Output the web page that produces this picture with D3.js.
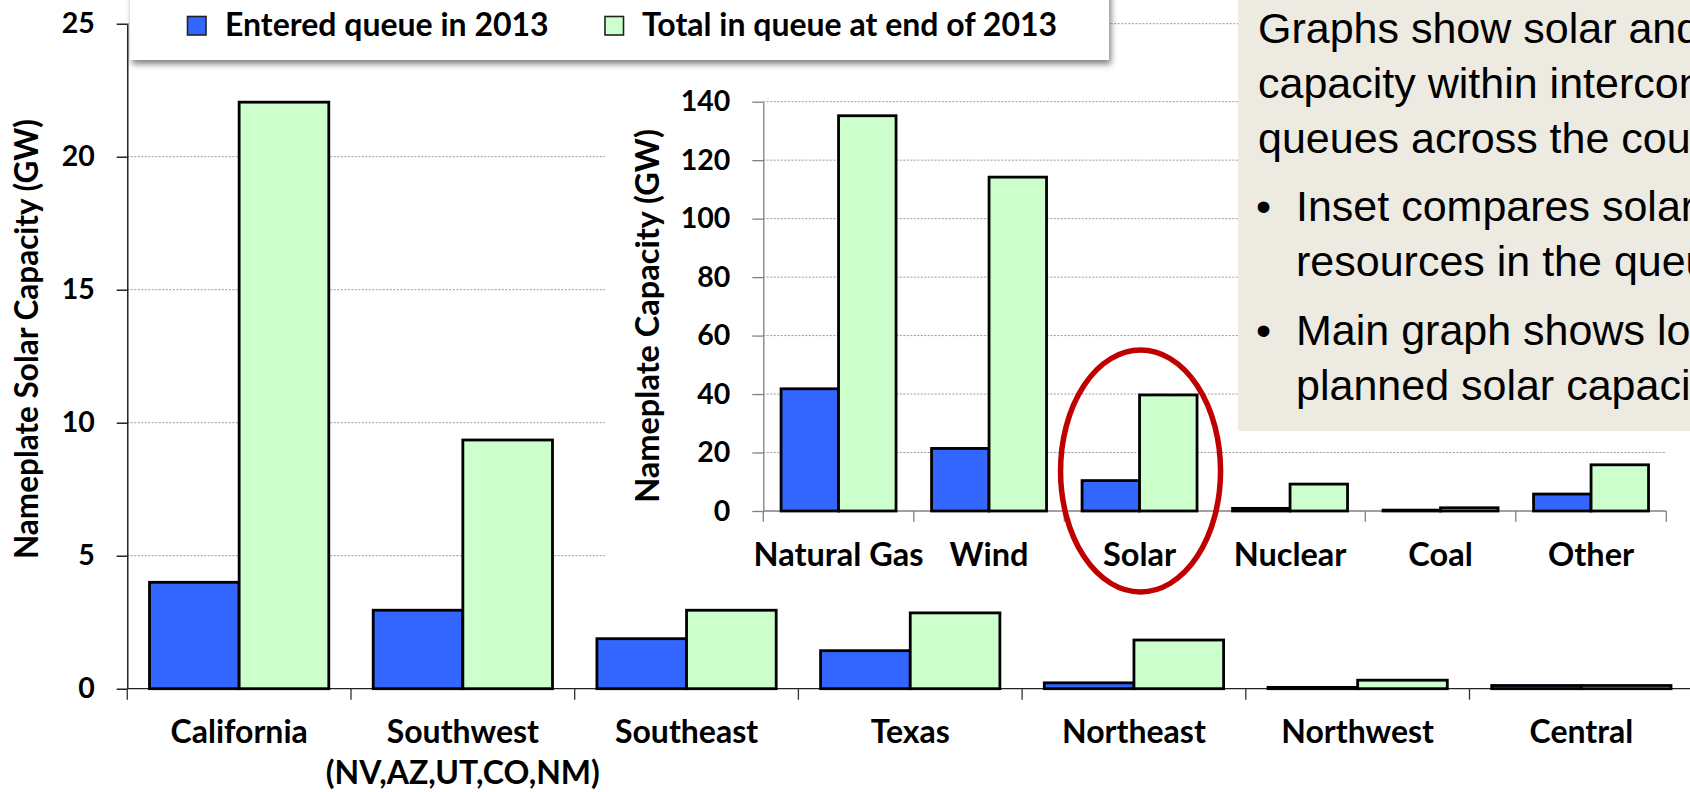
<!DOCTYPE html>
<html>
<head>
<meta charset="utf-8">
<script src="https://cdn.jsdelivr.net/npm/d3@7"></script>
<style>
  html, body { margin: 0; padding: 0; background: #fff; overflow: hidden; }
  svg { display: block; }
</style>
</head>
<body>
<script>
// ---- Regional solar capacity in interconnection queues (GW) ----
const regions = ["California", "Southwest", "Southeast", "Texas", "Northeast", "Northwest", "Central"];
const regionSubLabels = ["", "(NV,AZ,UT,CO,NM)", "", "", "", "", ""];
const enteredByRegion = [4.0, 2.95, 1.88, 1.43, 0.22, 0.05, 0.12];
const totalByRegion = [22.05, 9.35, 2.95, 2.85, 1.83, 0.32, 0.12];
const regionTicks = [0, 5, 10, 15, 20, 25];

// ---- All resources in interconnection queues (GW) ----
const resources = ["Natural Gas", "Wind", "Solar", "Nuclear", "Coal", "Other"];
const enteredByResource = [41.8, 21.4, 10.4, 0.9, 0.3, 5.8];
const totalByResource = [135.2, 114.2, 39.7, 9.2, 1.1, 15.8];
const resourceTicks = [0, 20, 40, 60, 80, 100, 120, 140];

const seriesNames = ["Entered queue in 2013", "Total in queue at end of 2013"];
const seriesColors = ["#3366FF", "#CCFFCC"];

const noteLines = [
  { text: "Graphs show solar and other", bullet: false, gap: false },
  { text: "capacity within interconnection", bullet: false, gap: false },
  { text: "queues across the country", bullet: false, gap: false },
  { text: "Inset compares solar to other", bullet: true, gap: true },
  { text: "resources in the queue", bullet: false, indent: true, gap: false },
  { text: "Main graph shows location of", bullet: true, gap: true },
  { text: "planned solar capacity", bullet: false, indent: true, gap: false }
];

const W = 1690, H = 792;
const labelFont = "Lato, 'Open Sans', sans-serif";
const noteFont = "'Liberation Sans', Arial, sans-serif";

const svg = d3.select("body").append("svg")
  .attr("width", W).attr("height", H)
  .attr("viewBox", `0 0 ${W} ${H}`);

const defs = svg.append("defs");
defs.append("filter").attr("id", "legendShadow")
  .attr("x", "-5%").attr("y", "-50%").attr("width", "112%").attr("height", "220%")
  .append("feDropShadow")
  .attr("dx", 2).attr("dy", 4).attr("stdDeviation", 3)
  .attr("flood-color", "#000").attr("flood-opacity", 0.5);

// grouped bars: one band per category, one sub-band per series
function drawGroupedBars(g, cats, seriesVals, x, y, strokeW) {
  const sub = d3.scaleBand().domain(d3.range(seriesVals.length)).range([0, x.bandwidth()]);
  const rows = cats.map((c, i) => ({ c, vals: seriesVals.map(v => v[i]) }));
  const grp = g.selectAll("g.cat").data(rows).join("g")
    .attr("class", "cat")
    .attr("transform", d => `translate(${x(d.c)},0)`);
  grp.selectAll("rect").data(d => d.vals.map((v, s) => ({ v, s }))).join("rect")
    .attr("x", d => sub(d.s))
    .attr("y", d => y(d.v))
    .attr("width", sub.bandwidth())
    .attr("height", d => y(0) - y(d.v))
    .attr("fill", d => seriesColors[d.s])
    .attr("stroke", "#000")
    .attr("stroke-width", strokeW);
}

function styleAxisText(sel, size) {
  sel.selectAll("text")
    .attr("font-family", labelFont)
    .attr("font-weight", 700)
    .attr("font-size", size)
    .attr("fill", "#000");
}

// ================= Main chart: by region =================
const main = svg.append("g");
const mainLeft = 127.3, mainStep = 223.7;
const mainX = d3.scaleBand().domain(regions)
  .range([mainLeft, mainLeft + regions.length * mainStep])
  .paddingInner(0.1985).paddingOuter(0.1985 / 2);
const mainY = d3.scaleLinear().domain([0, 25]).range([688.7, 23.7]);

main.append("g").selectAll("line").data(regionTicks.slice(1)).join("line")
  .attr("x1", mainLeft).attr("x2", W)
  .attr("y1", d => mainY(d)).attr("y2", d => mainY(d))
  .attr("stroke", "#9a9a9a").attr("stroke-width", 1).attr("stroke-dasharray", "2,1.5");

const mainYAxis = main.append("g").attr("transform", `translate(${mainLeft},0)`)
  .call(d3.axisLeft(mainY).tickValues(regionTicks).tickSize(10.6).tickSizeOuter(0).tickPadding(22));
mainYAxis.select(".domain").attr("stroke", "#000").attr("stroke-width", 1.3);
mainYAxis.selectAll(".tick line").attr("stroke", "#000").attr("stroke-width", 1.3);
styleAxisText(mainYAxis, 28.5);

// category axis with ticks between groups
const mainBounds = d3.range(regions.length + 1).map(i => mainX.range()[0] + i * mainX.step());
main.append("line").attr("x1", mainLeft).attr("x2", W)
  .attr("y1", mainY(0)).attr("y2", mainY(0))
  .attr("stroke", "#222").attr("stroke-width", 1.3);
main.append("g").selectAll("line").data(mainBounds).join("line")
  .attr("x1", d => d).attr("x2", d => d)
  .attr("y1", mainY(0)).attr("y2", mainY(0) + 11)
  .attr("stroke", "#333").attr("stroke-width", 1.3);

drawGroupedBars(main.append("g"), regions, [enteredByRegion, totalByRegion], mainX, mainY, 2.8);

const mainLabels = main.append("g")
  .attr("font-family", labelFont).attr("font-weight", 700).attr("font-size", 32)
  .attr("text-anchor", "middle");
regions.forEach((r, i) => {
  const cx = mainX(r) + mainX.bandwidth() / 2;
  mainLabels.append("text").attr("x", cx).attr("y", 743.3).text(r);
  if (regionSubLabels[i]) mainLabels.append("text").attr("x", cx).attr("y", 784).text(regionSubLabels[i]);
});

main.append("text")
  .attr("transform", "translate(38,339) rotate(-90)")
  .attr("text-anchor", "middle")
  .attr("font-family", labelFont).attr("font-weight", 700).attr("font-size", 31.5)
  .text("Nameplate Solar Capacity (GW)");

// ================= Inset chart: by resource =================
const inset = svg.append("g");
inset.append("rect").attr("x", 605).attr("y", 62).attr("width", W - 605).attr("height", 536).attr("fill", "#fff");

const insetLeft = 763.3, insetStep = 150.5;
const insetX = d3.scaleBand().domain(resources)
  .range([insetLeft, insetLeft + resources.length * insetStep])
  .paddingInner(0.236).paddingOuter(0.236 / 2);
const insetY = d3.scaleLinear().domain([0, 140]).range([511, 101.7]);

inset.append("g").selectAll("line").data(resourceTicks.slice(1)).join("line")
  .attr("x1", insetLeft).attr("x2", insetX.range()[1])
  .attr("y1", d => insetY(d)).attr("y2", d => insetY(d))
  .attr("stroke", "#9a9a9a").attr("stroke-width", 1).attr("stroke-dasharray", "2,1.5");

const insetYAxis = inset.append("g").attr("transform", `translate(${insetLeft},0)`)
  .call(d3.axisLeft(insetY).tickValues(resourceTicks).tickSize(11).tickSizeOuter(0).tickPadding(22));
insetYAxis.select(".domain").attr("stroke", "#808080").attr("stroke-width", 1.3);
insetYAxis.selectAll(".tick line").attr("stroke", "#808080").attr("stroke-width", 1.3);
styleAxisText(insetYAxis, 28.5);

const insetBounds = d3.range(resources.length + 1).map(i => insetX.range()[0] + i * insetX.step());
inset.append("line").attr("x1", insetLeft).attr("x2", insetX.range()[1])
  .attr("y1", insetY(0)).attr("y2", insetY(0))
  .attr("stroke", "#808080").attr("stroke-width", 1.3);
inset.append("g").selectAll("line").data(insetBounds).join("line")
  .attr("x1", d => d).attr("x2", d => d)
  .attr("y1", insetY(0)).attr("y2", insetY(0) + 10.7)
  .attr("stroke", "#808080").attr("stroke-width", 1.3);

drawGroupedBars(inset.append("g"), resources, [enteredByResource, totalByResource], insetX, insetY, 2.8);

inset.append("g")
  .attr("font-family", labelFont).attr("font-weight", 700).attr("font-size", 32.5)
  .attr("text-anchor", "middle")
  .selectAll("text").data(resources).join("text")
  .attr("x", d => insetX(d) + insetX.bandwidth() / 2)
  .attr("y", 565.7)
  .text(d => d);

inset.append("text")
  .attr("transform", "translate(659,316) rotate(-90)")
  .attr("text-anchor", "middle")
  .attr("font-family", labelFont).attr("font-weight", 700).attr("font-size", 32.5)
  .text("Nameplate Capacity (GW)");

// highlight ring around the solar group
const solarCx = insetX("Solar") + insetX.bandwidth() / 2;
inset.append("ellipse")
  .attr("cx", solarCx + 1).attr("cy", 471).attr("rx", 80).attr("ry", 121)
  .attr("fill", "none").attr("stroke", "#C00000").attr("stroke-width", 5.5);

// ================= Note box =================
const note = svg.append("g");
note.append("rect").attr("x", 1238).attr("y", 0).attr("width", W - 1238).attr("height", 431).attr("fill", "#ECEAE1");
const noteText = note.append("g").attr("font-family", noteFont).attr("font-size", 43).attr("fill", "#000");
let baseY = 43;
noteLines.forEach((ln, i) => {
  if (i > 0) baseY += ln.gap ? 68.4 : 55;
  const tx = (ln.bullet || ln.indent) ? 1296 : 1258;
  if (ln.bullet) noteText.append("text").attr("x", 1256).attr("y", baseY).text("\u2022");
  noteText.append("text").attr("x", tx).attr("y", baseY).text(ln.text);
});

// ================= Legend =================
const legend = svg.append("g");
legend.append("rect").attr("x", 130).attr("y", -20).attr("width", 979).attr("height", 80)
  .attr("fill", "#fff").attr("filter", "url(#legendShadow)");
const legendItems = [
  { name: seriesNames[0], color: seriesColors[0], mx: 187.5, tx: 225 },
  { name: seriesNames[1], color: seriesColors[1], mx: 605, tx: 642 }
];
legendItems.forEach(it => {
  legend.append("rect").attr("x", it.mx).attr("y", 16.5).attr("width", 18.5).attr("height", 18.5)
    .attr("fill", it.color).attr("stroke", "#222").attr("stroke-width", 1.6);
  legend.append("text").attr("x", it.tx).attr("y", 36)
    .attr("font-family", labelFont).attr("font-weight", 700).attr("font-size", 32)
    .text(it.name);
});
</script>
</body>
</html>
